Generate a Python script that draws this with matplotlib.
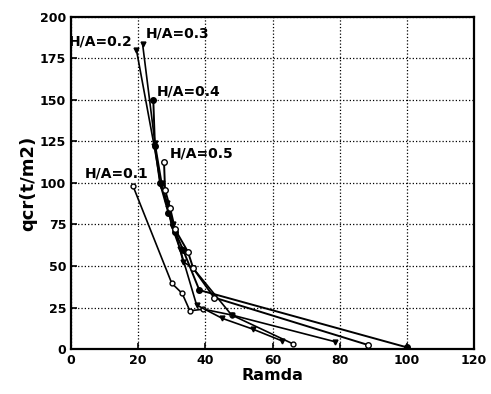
import matplotlib
matplotlib.use("Agg")
import matplotlib.pyplot as plt

# data
x_01 = [18.5, 30.0, 33.1, 35.4, 39.4, 47.8, 66.2]
y_01 = [98, 39.6, 33.5, 23, 24, 20.5, 3]

x_02 = [19.5, 24.8, 26.8, 28.5, 30.0, 32.5, 37.4, 45.0, 54.1, 62.7]
y_02 = [180, 122, 98, 88, 74, 60, 26.5, 18.5, 12, 5]

x_03 = [21.3, 25.0, 27.0, 29.0, 30.5, 33.4, 36.4, 47.8, 78.6]
y_03 = [184, 124, 100, 85, 75, 52.6, 48.6, 20.5, 4.4]

x_04 = [24.5, 25.0, 26.5, 29.0, 31.0, 33.4, 38.2, 100.0]
y_04 = [150, 122, 100, 82, 70.7, 59.6, 35.5, 1]

x_05 = [27.7, 28.0, 29.5, 31.0, 34.8, 36.4, 42.6, 88.5]
y_05 = [112.5, 96, 85, 72, 58.6, 48.6, 31, 2.4]

labels = ["H/A=0.1", "H/A=0.2", "H/A=0.3", "H/A=0.4", "H/A=0.5"]
label_pos = [(4.2, 106), (-0.8, 185), (22.2, 190), (25.6, 155), (29.5, 118)]

plt.rcParams['font.family'] = ['DejaVu Sans']
plt.rcParams['font.weight'] = 'bold'

fig = plt.figure(figsize=(4.91, 3.94), dpi=100)
ax = fig.add_axes([0.1446, 0.1142, 0.8208, 0.8427])

ax.plot(x_01, y_01, color='k', lw=1.2, marker='o', ms=3.5, mfc='white', mec='k')
ax.plot(x_02, y_02, color='k', lw=1.2, marker='v', ms=3.5, mfc='k', mec='k')
ax.plot(x_03, y_03, color='k', lw=1.2, marker='v', ms=3.5, mfc='k', mec='k')
ax.plot(x_04, y_04, color='k', lw=1.4, marker='o', ms=4, mfc='k', mec='k')
ax.plot(x_05, y_05, color='k', lw=1.4, marker='o', ms=4, mfc='white', mec='k')

for lab, (lx, ly) in zip(labels, label_pos):
    ax.text(lx, ly, lab, fontsize=10, fontweight='bold', va='center', ha='left')

ax.set_xlim(0, 120)
ax.set_ylim(0, 200)
ax.set_xticks(range(0, 121, 20))
ax.set_yticks(range(0, 201, 25))
ax.grid(True, color='k', linestyle=':', linewidth=0.9)
ax.tick_params(direction='in', length=4, width=1.2, labelsize=9)
for lbl in ax.get_xticklabels() + ax.get_yticklabels():
    lbl.set_fontweight('bold')
for s in ax.spines.values():
    s.set_linewidth(1.6)

ax.set_xlabel("Ramda", fontsize=11.5, fontweight='bold', labelpad=1)
ax.set_ylabel("qcr(t/m2)", fontsize=13, fontweight='bold', labelpad=2)

fig.savefig("out.png", dpi=100)
